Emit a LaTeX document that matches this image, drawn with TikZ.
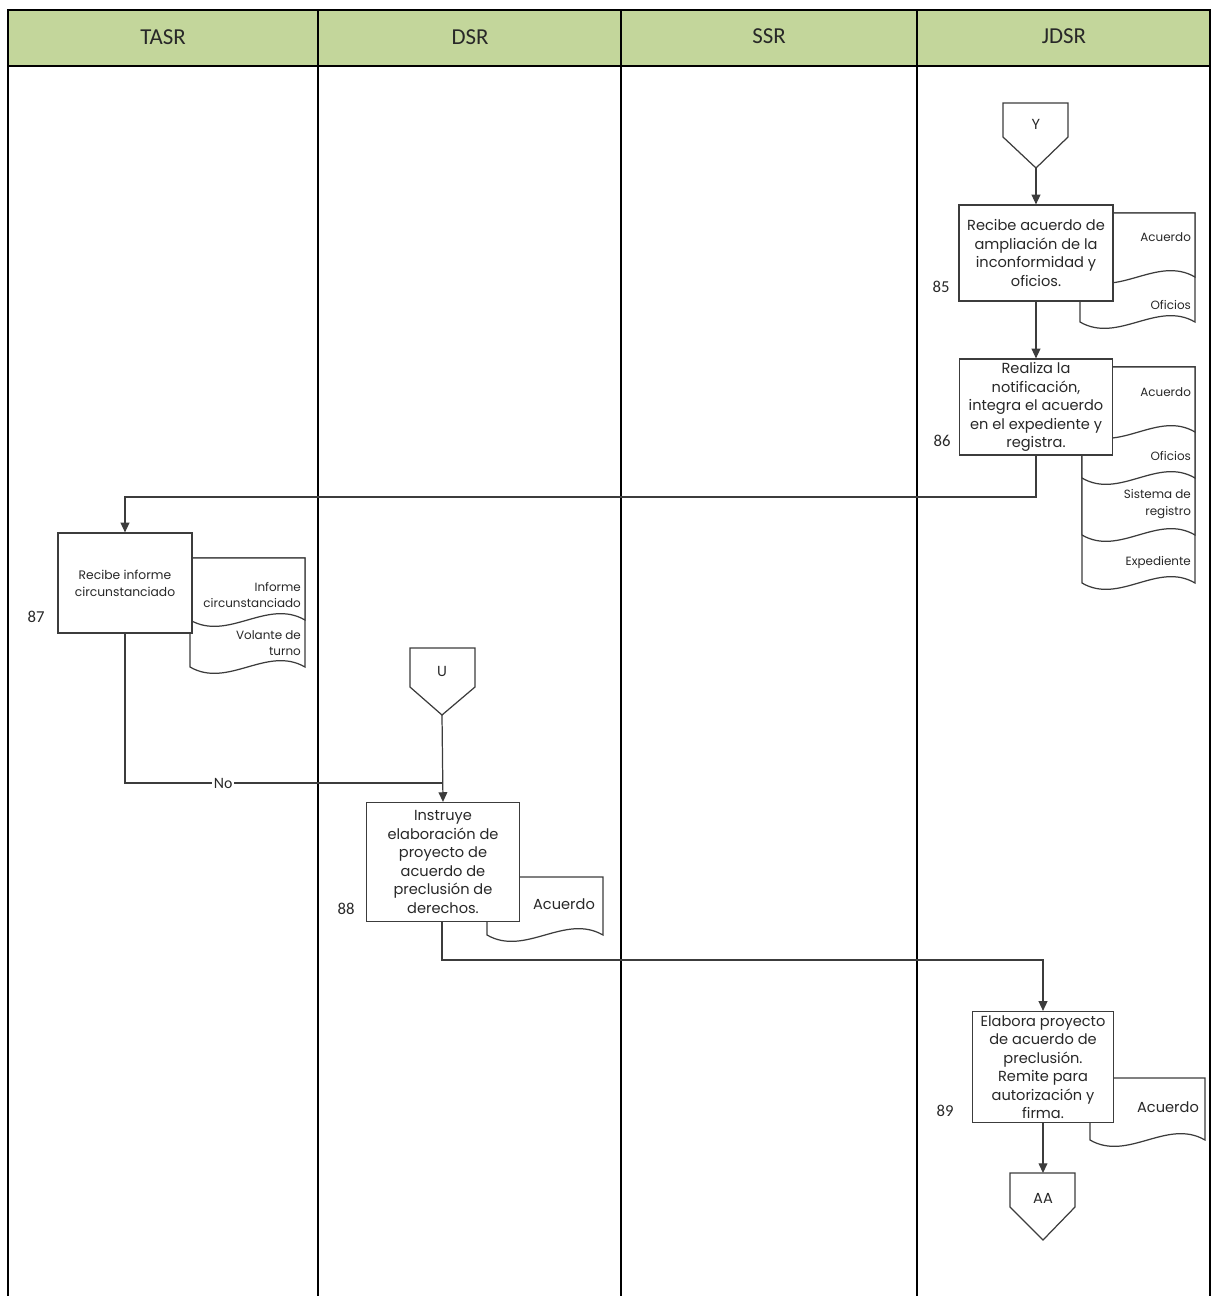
\documentclass[tikz,border=0pt]{standalone}
\usepackage{fontspec}
\setmainfont{Poppins}
\newfontfamily\numfont{Carlito}
\usepackage{tikz}
\usetikzlibrary{arrows.meta}
\definecolor{headgreen}{RGB}{195,214,155}
\definecolor{inkgray}{RGB}{40,40,40}
\definecolor{linegray}{RGB}{60,60,60}

% document sheet: left, right, top, baseline of the wave
\newcommand{\docsheet}[4]{%
  \filldraw[fill=white, draw=linegray, line width=0.7pt] (#1,#3) -- (#2,#3) -- (#2,#4)
    .. controls ({#1+0.67*(#2-#1)},#4-22) and ({#1+0.33*(#2-#1)},#4+22) .. (#1,#4) -- cycle;
}

\tikzset{
  proc/.style={draw=linegray, fill=white, line width=0.7pt, align=center, inner sep=1pt,
    text=inkgray, font=\fontsize{8.3}{10.5}\selectfont},
  arr/.style={-{Triangle[length=5.5pt,width=5pt]}, draw=linegray, line width=0.7pt},
  lane/.style={line width=0.9pt},
  doclbl/.style={align=right, anchor=east, inner sep=1pt, text=inkgray,
    font=\fontsize{6.8}{9.4}\selectfont},
  numlbl/.style={text=inkgray, font=\numfont\fontsize{9.5}{11}\selectfont},
  headlbl/.style={text=inkgray, font=\numfont\fontsize{13}{15}\selectfont},
  offlbl/.style={text=inkgray, font=\fontsize{8.3}{10}\selectfont}
}

\begin{document}
\begin{tikzpicture}[x=0.02cm, y=-0.02cm]

  \useasboundingbox (0,0) rectangle (1215,1296);

  % Header
  \filldraw[fill=headgreen, lane] (8,10) rectangle (1210,66);
  \node[headlbl] (hTASR) at (163,37) {TASR};
  \node[headlbl] (hDSR)  at (470,37) {DSR};
  \node[headlbl] (hSSR)  at (769,36) {SSR};
  \node[headlbl] (hJDSR) at (1064,36) {JDSR};

  % Lanes
  \draw[lane] (8,10) -- (8,1296);
  \draw[lane] (318,10) -- (318,1296);
  \draw[lane] (621,10) -- (621,1296);
  \draw[lane] (917,10) -- (917,1296);
  \draw[lane] (1210,10) -- (1210,1296);

  % Off-page connectors
  \draw[draw=linegray, line width=0.7pt] (1003,103) -- (1068,103) -- (1068,137) -- (1036,168) -- (1003,137) -- cycle;
  \node[offlbl] (Y) at (1036,124) {Y};
  \coordinate (Ytip) at (1036,168);

  \draw[draw=linegray, line width=0.7pt] (410,648) -- (475,648) -- (475,687) -- (442,715) -- (410,687) -- cycle;
  \node[offlbl] (U) at (442,671) {U};
  \coordinate (Utip) at (442,715);

  \draw[draw=linegray, line width=0.7pt] (1010,1173) -- (1075,1173) -- (1075,1207) -- (1043,1240) -- (1010,1207) -- cycle;
  \node[offlbl] (AA) at (1043,1198) {AA};
  \coordinate (AAtop) at (1043,1173);

  % Documents
  \docsheet{1080}{1195}{213}{322}
  \docsheet{1080}{1195}{213}{277}
  \node[doclbl] (d85a) at (1193,237) {Acuerdo};
  \node[doclbl] (d85b) at (1193,305) {Oficios};

  \docsheet{1082}{1195}{367}{583}
  \docsheet{1082}{1195}{367}{535}
  \docsheet{1082}{1195}{367}{478}
  \docsheet{1082}{1195}{367}{432}
  \node[doclbl] (d86a) at (1193,392) {Acuerdo};
  \node[doclbl] (d86b) at (1193,456) {Oficios};
  \node[doclbl] (d86c) at (1193,504) {Sistema de\\registro};
  \node[doclbl] (d86d) at (1193,562) {Expediente};

  \docsheet{190}{305}{558}{667}
  \docsheet{190}{305}{558}{620}
  \node[doclbl] (d87a) at (303,595) {Informe\\circunstanciado};
  \node[doclbl] (d87b) at (303,643) {Volante de\\turno};

  \docsheet{487}{603}{877}{935}
  \node[doclbl, anchor=center, font=\fontsize{8.3}{10}\selectfont] (d88) at (564,904) {Acuerdo};

  \docsheet{1090}{1205}{1078}{1140}
  \node[doclbl, anchor=center, font=\fontsize{8.3}{10}\selectfont] (d89) at (1168,1107) {Acuerdo};

  % Activities
  \node[proc, minimum width=3.08cm, minimum height=1.92cm] (b85) at (1036,253)
    {Recibe acuerdo de\\ampliación de la\\inconformidad y\\oficios.};
  \node[proc, minimum width=3.06cm, minimum height=1.92cm] (b86) at (1036,407)
    {Realiza la\\notificación,\\integra el acuerdo\\en el expediente y\\registra.};
  \node[proc, minimum width=2.68cm, minimum height=2.0cm, font=\fontsize{7}{9.6}\selectfont] (b87) at (125,583)
    {Recibe informe\\circunstanciado};
  \node[proc, minimum width=3.06cm, minimum height=2.38cm] (b88) at (443,862)
    {Instruye\\elaboración de\\proyecto de\\acuerdo de\\preclusión de\\derechos.};
  \node[proc, minimum width=2.82cm, minimum height=2.22cm] (b89) at (1043,1067)
    {Elabora proyecto\\de acuerdo de\\preclusión.\\Remite para\\autorización y\\firma.};

  % Step numbers
  \node[numlbl] (n85) at (941,287) {85};
  \node[numlbl] (n86) at (942,441) {86};
  \node[numlbl] (n87) at (36,617) {87};
  \node[numlbl] (n88) at (346,909) {88};
  \node[numlbl] (n89) at (945,1111) {89};

  % Flow
  \coordinate (t86) at (1036,497);
  \coordinate (no87) at (125,783);
  \coordinate (j88) at (442,783);
  \coordinate (t88) at (442,960);

  \draw[arr] (Ytip) -- (b85.north);
  \draw[arr] (b85.south) -- (b86.north);
  \draw[arr] (b86.south) -- (t86) -| (b87.north);
  \draw[draw=linegray, line width=0.7pt] (b87.south) -- (no87) -- node[pos=0.31, fill=white, inner sep=1pt, numlbl, font=\numfont\fontsize{9}{10}\selectfont] (no) {No} (j88);
  \draw[arr] (Utip) -- (b88.north);
  \draw[arr] (b88.south -| t88) -- (t88) -| (b89.north);
  \draw[arr] (b89.south) -- (AAtop);

\end{tikzpicture}
\end{document}
